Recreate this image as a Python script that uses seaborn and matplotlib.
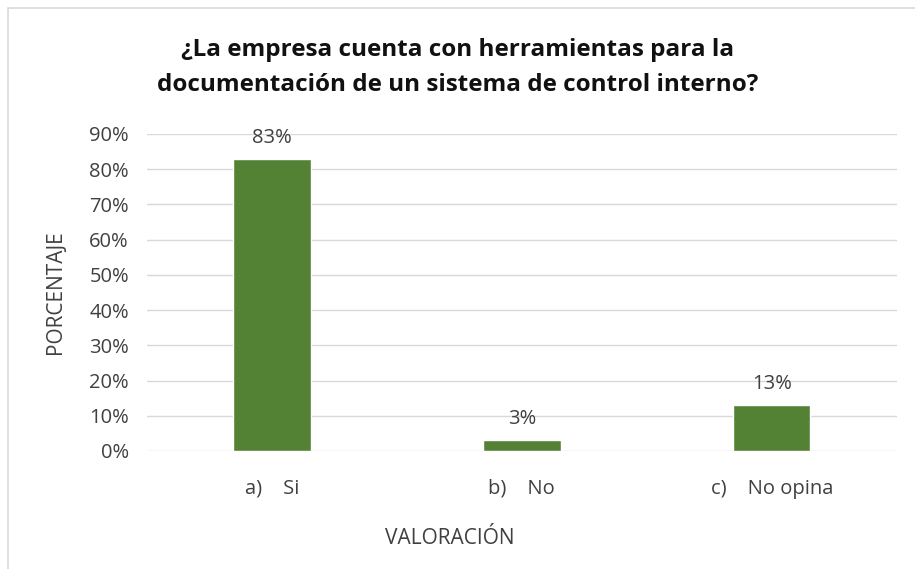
import pandas as pd
import matplotlib.pyplot as plt
import seaborn as sns
from matplotlib.patches import Rectangle

categorias = ["a)    Si", "b)    No", "c)    No opina"]
porcentajes = [0.83, 0.03, 0.13]
etiquetas = ["83%", "3%", "13%"]
yticks = [0.0, 0.1, 0.2, 0.3, 0.4, 0.5, 0.6, 0.7, 0.8, 0.9]

sns.set_theme(style="white")
plt.rcParams['font.family'] = ['Open Sans', 'DejaVu Sans']

df = pd.DataFrame({"valoracion": categorias, "porcentaje": porcentajes})

fig = plt.figure(figsize=(9.15, 5.69), dpi=100)
ax = fig.add_axes([0.1607, 0.2074, 0.8193, 0.5571])

sns.barplot(df, x="valoracion", y="porcentaje", color="#548235", saturation=1,
            width=0.31, ax=ax)

ax.set_ylim(0, 0.9)
ax.set_yticks(yticks)
ax.set_yticklabels([f"{int(round(v * 100))}%" for v in yticks], fontsize=14.5, color="#404040")
ax.tick_params(axis="y", pad=13, length=0)
ax.tick_params(axis="x", pad=20, length=0, labelsize=14.5, labelcolor="#404040")
ax.grid(axis="y", color="#d9d9d9", linewidth=1)
ax.set_axisbelow(True)
for s in ax.spines.values():
    s.set_visible(False)

ax.bar_label(ax.containers[0], labels=etiquetas, padding=8, fontsize=14.5, color="#404040")

ax.set_ylabel("PORCENTAJE", fontsize=15, color="#404040")
ax.yaxis.set_label_coords(-0.108, 0.5)
ax.set_xlabel("VALORACIÓN", fontsize=15, color="#404040")
ax.xaxis.set_label_coords(0.404, -0.243)

fig.text(0.5, 0.881, "¿La empresa cuenta con herramientas para la\ndocumentación de un sistema de control interno?",
         ha="center", va="center", fontsize=17.5, fontweight="bold", linespacing=1.6, color="#111111")

fig.patches.append(Rectangle((0.009, -0.01), 1.5, 0.996, transform=fig.transFigure,
                             fill=False, edgecolor="#d9d9d9", linewidth=1.2))

plt.savefig("out.png", dpi=100)
plt.close()
